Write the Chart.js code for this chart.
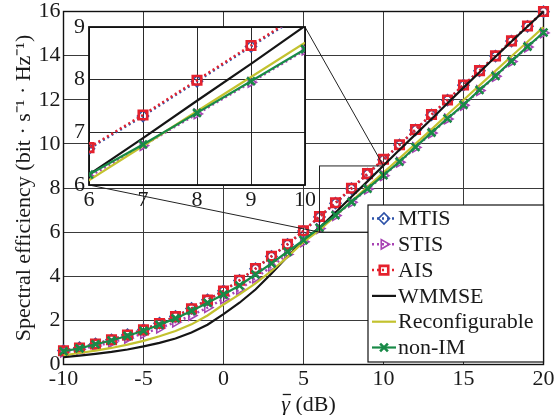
<!DOCTYPE html>
<html><head><meta charset="utf-8">
<script src="https://cdn.jsdelivr.net/npm/chart.js@4.4.1/dist/chart.umd.min.js"></script>
<style>
html,body{margin:0;padding:0;background:#fff;}
#wrap{position:relative;width:554px;height:415px;overflow:hidden;}
#main{position:absolute;left:0;top:0;}
#inset{position:absolute;left:55px;top:12px;}
</style></head><body>
<div id="wrap"><canvas id="main" width="554" height="415"></canvas><canvas id="inset" width="260" height="200"></canvas></div>
<script>
// ---------- data ----------
const snr = [-10,-9,-8,-7,-6,-5,-4,-3,-2,-1,0,1,2,3,4,5,6,7,8,9,10,11,12,13,14,15,16,17,18,19,20];
const mtis   = [0.63,0.76,0.94,1.12,1.35,1.58,1.87,2.18,2.54,2.93,3.34,3.81,4.34,4.90,5.44,6.05,6.69,7.31,7.97,8.63,9.28,9.95,10.63,11.31,11.98,12.66,13.31,13.98,14.66,15.33,15.99];
const stis   = [0.56,0.68,0.84,1.00,1.19,1.40,1.65,1.92,2.22,2.58,2.97,3.40,3.92,4.44,4.99,5.56,6.16,6.75,7.35,7.95,8.56,9.17,9.84,10.49,11.13,11.75,12.42,13.06,13.73,14.39,15.03];
const ais    = [0.62,0.75,0.93,1.12,1.34,1.57,1.86,2.17,2.53,2.92,3.33,3.82,4.35,4.91,5.45,6.06,6.71,7.33,7.99,8.65,9.30,9.96,10.65,11.33,11.99,12.67,13.32,13.99,14.67,15.34,16.00];
const wmmse  = [0.33,0.40,0.48,0.57,0.68,0.82,0.98,1.18,1.45,1.80,2.28,2.80,3.40,4.12,4.90,5.62,6.20,6.89,7.60,8.30,9.02,9.73,10.43,11.13,11.84,12.55,13.25,13.95,14.64,15.32,16.00];
const reconf = [0.42,0.52,0.63,0.75,0.90,1.07,1.28,1.52,1.82,2.22,2.72,3.18,3.68,4.24,4.88,5.55,6.09,6.74,7.40,8.05,8.70,9.35,10.00,10.66,11.33,11.99,12.65,13.31,13.97,14.63,15.29];
const nonIM  = [0.60,0.73,0.92,1.09,1.30,1.53,1.80,2.09,2.43,2.80,3.17,3.58,4.08,4.58,5.11,5.64,6.20,6.77,7.37,7.97,8.58,9.19,9.86,10.51,11.15,11.77,12.44,13.08,13.75,14.41,15.05];
const seriesNames = ['MTIS','STIS','AIS','WMMSE','Reconfigurable','non-IM'];
const xRange = [-10, 20];
const yRange = [0, 16];
const zoomX = [6, 10];
const zoomY = [6, 9];
const xTitleSymbol = 'γ';
const xTitleUnit = ' (dB)';
const yTitle = 'Spectral efficiency (bit · s⁻¹ · Hz⁻¹)';

// ---------- styles ----------
const FONT = "'Liberation Serif','Times New Roman',serif";
const styles = [
  {color:'#2d52a8', dash:[2,3], width:2.5, point:'rectRot', r:5.5, rot:0, pw:1.6},
  {color:'#a743b3', dash:[2,3], width:2.5, point:'triangle', r:5.5, rot:90, pw:1.6},
  {color:'#e5212d', dash:[2,3], width:2.5, point:'rect', r:6, rot:0, pw:2.6},
  {color:'#151515', dash:[], width:2.2, point:false, r:0, rot:0, pw:0},
  {color:'#c3c22f', dash:[], width:2.2, point:false, r:0, rot:0, pw:0},
  {color:'#188a47', dash:[], width:2.2, point:'crossRot', r:5.5, rot:0, pw:2.6}
];
const seriesData = [mtis, stis, ais, wmmse, reconf, nonIM];
// draw order: later datasets on top (order smaller = drawn later)
const drawOrder = [6,5,4,3,2,1];

function makeDatasets(clip){
  return seriesData.map((arr,i)=>({
    label: seriesNames[i],
    data: snr.map((x,k)=>({x:x, y:arr[k]})),
    borderColor: styles[i].color,
    backgroundColor: 'rgba(0,0,0,0)',
    borderWidth: styles[i].width,
    borderDash: styles[i].dash,
    pointStyle: styles[i].point || 'circle',
    pointRadius: styles[i].point ? styles[i].r : 0,
    pointRotation: styles[i].rot,
    pointBorderWidth: styles[i].pw,
    pointBorderColor: styles[i].color,
    pointBackgroundColor: 'rgba(0,0,0,0)',
    tension: 0,
    order: drawOrder[i],
    clip: clip
  }));
}

// Layout constants (pixels)
const MAIN = {left:63.5, right:543.5, top:11.5, bottom:364.5};
const INSET_POS = {left:55, top:12};
const INSET_AREA = {left:34, right:250, top:15, bottom:173};

function noPad(scale){ scale.paddingLeft=0; scale.paddingRight=0; scale.paddingTop=0; scale.paddingBottom=0; }

const mainDecor = {
  id:'mainDecor',
  beforeDatasetsDraw(chart){
    const {ctx, chartArea:a} = chart;
    ctx.save();
    ctx.strokeStyle='#111'; ctx.lineWidth=1.4;
    ctx.strokeRect(a.left, a.top, a.right-a.left, a.bottom-a.top);
    ctx.restore();
  },
  afterDatasetsDraw(chart){
    const {ctx, chartArea:a, scales:{x,y}} = chart;
    ctx.save();
    const rx0=x.getPixelForValue(zoomX[0]), rx1=x.getPixelForValue(zoomX[1]);
    const ry0=y.getPixelForValue(zoomY[0]), ry1=y.getPixelForValue(zoomY[1]);
    ctx.strokeStyle='#222'; ctx.lineWidth=1;
    ctx.strokeRect(rx0, ry1, rx1-rx0, ry0-ry1);
    const iL = INSET_POS.left+INSET_AREA.left, iR = INSET_POS.left+INSET_AREA.right;
    const iT = INSET_POS.top+INSET_AREA.top, iB = INSET_POS.top+INSET_AREA.bottom;
    ctx.beginPath();
    ctx.moveTo(iL, iB); ctx.lineTo(rx0, ry0);
    ctx.moveTo(iR, iT); ctx.lineTo(rx1, ry1);
    ctx.stroke();
    // legend
    const lx0 = 368, lx1 = a.right, ly0 = 205, ly1 = a.bottom-2.5;
    ctx.fillStyle='#fff'; ctx.fillRect(lx0, ly0, lx1-lx0, ly1-ly0);
    ctx.strokeStyle='#111'; ctx.lineWidth=1.2; ctx.strokeRect(lx0, ly0, lx1-lx0, ly1-ly0);
    ctx.font = '22px '+FONT; ctx.textBaseline='middle'; ctx.textAlign='left';
    seriesNames.forEach((name,i)=>{
      const cy = 218.5 + i*25.8;
      const st = styles[i];
      ctx.save();
      ctx.strokeStyle=st.color; ctx.lineWidth=st.width; ctx.setLineDash(st.dash);
      ctx.beginPath(); ctx.moveTo(372, cy); ctx.lineTo(396, cy); ctx.stroke();
      ctx.setLineDash([]);
      if (st.point){
        ctx.lineWidth = st.pw; ctx.fillStyle='rgba(0,0,0,0)';
        Chart.helpers.drawPoint(ctx, {pointStyle:st.point, rotation:st.rot, radius:st.r, borderWidth:st.pw}, 384, cy);
      }
      ctx.restore();
      ctx.fillStyle='#1a1a1a';
      ctx.fillText(name, 398, cy+1);
    });
    ctx.restore();
  },
  afterDraw(chart){
    // x-axis title: italic gamma with overline, then upright unit
    const {ctx, chartArea:a} = chart;
    ctx.save();
    ctx.fillStyle='#1a1a1a'; ctx.strokeStyle='#1a1a1a';
    ctx.textBaseline='alphabetic'; ctx.textAlign='left';
    ctx.font = 'italic 22px '+FONT;
    const wg = ctx.measureText(xTitleSymbol).width;
    ctx.font = '22px '+FONT;
    const wu = ctx.measureText(xTitleUnit).width;
    const cx = (a.left+a.right)/2 + 5;
    const x0 = cx - (wg+wu)/2;
    const base = 411;
    ctx.font = 'italic 22px '+FONT;
    ctx.fillText(xTitleSymbol, x0, base);
    ctx.font = '22px '+FONT;
    ctx.fillText(xTitleUnit, x0+wg, base);
    ctx.lineWidth=1.3;
    ctx.beginPath(); ctx.moveTo(x0+1.5, base-16.5); ctx.lineTo(x0+wg+1, base-16.5); ctx.stroke();
    ctx.restore();
  }
};

const mainChart = new Chart(document.getElementById('main'), {
  type:'line',
  data:{datasets: makeDatasets(false)},
  options:{
    responsive:false, animation:false, devicePixelRatio:1,
    layout:{padding:{left:0, right:554-MAIN.right, top:MAIN.top, bottom:0}},
    plugins:{legend:{display:false}, tooltip:{enabled:false}},
    scales:{
      x:{type:'linear', min:xRange[0], max:xRange[1],
        ticks:{stepSize:5, autoSkip:false, maxRotation:0, color:'#1a1a1a', padding:4, font:{family:FONT, size:22, lineHeight:1}},
        grid:{color:'#3a3a3a', lineWidth:1, drawTicks:false},
        border:{display:false},
        title:{display:false},
        afterFit(s){ s.height = 415-MAIN.bottom; noPad(s); }
      },
      y:{type:'linear', min:yRange[0], max:yRange[1],
        ticks:{stepSize:2, autoSkip:false, color:'#1a1a1a', padding:3, font:{family:FONT, size:22, lineHeight:1}},
        grid:{color:'#3a3a3a', lineWidth:1, drawTicks:false},
        border:{display:false},
        title:{display:true, text:yTitle, color:'#1a1a1a', font:{family:FONT, size:22, lineHeight:1}, padding:{top:13,bottom:0}},
        afterFit(s){ s.width = MAIN.left; noPad(s); }
      }
    }
  },
  plugins:[mainDecor]
});

const insetDecor = {
  id:'insetDecor',
  beforeDraw(chart){
    const {ctx, chartArea:a} = chart;
    ctx.save(); ctx.fillStyle='#fff'; ctx.fillRect(a.left, a.top, a.right-a.left, a.bottom-a.top); ctx.restore();
  },
  beforeDatasetsDraw(chart){
    const {ctx, chartArea:a} = chart;
    ctx.save(); ctx.strokeStyle='#111'; ctx.lineWidth=1.8;
    ctx.strokeRect(a.left, a.top, a.right-a.left, a.bottom-a.top); ctx.restore();
  }
};

const insetChart = new Chart(document.getElementById('inset'), {
  type:'line',
  data:{datasets: makeDatasets(0)},
  options:{
    responsive:false, animation:false, devicePixelRatio:1,
    layout:{padding:{left:0, right:260-INSET_AREA.right, top:INSET_AREA.top, bottom:0}},
    plugins:{legend:{display:false}, tooltip:{enabled:false}},
    scales:{
      x:{type:'linear', min:zoomX[0], max:zoomX[1],
        ticks:{stepSize:1, autoSkip:false, maxRotation:0, color:'#1a1a1a', padding:4, font:{family:FONT, size:22, lineHeight:1}},
        grid:{color:'#2a2a2a', lineWidth:1, drawTicks:false},
        border:{display:false},
        afterFit(s){ s.height = 200-INSET_AREA.bottom; noPad(s); }
      },
      y:{type:'linear', min:zoomY[0], max:zoomY[1],
        ticks:{stepSize:1, autoSkip:false, color:'#1a1a1a', padding:4, font:{family:FONT, size:22, lineHeight:1}},
        grid:{color:'#2a2a2a', lineWidth:1, drawTicks:false},
        border:{display:false},
        afterFit(s){ s.width = INSET_AREA.left; noPad(s); }
      }
    }
  },
  plugins:[insetDecor]
});
</script>
</body></html>
